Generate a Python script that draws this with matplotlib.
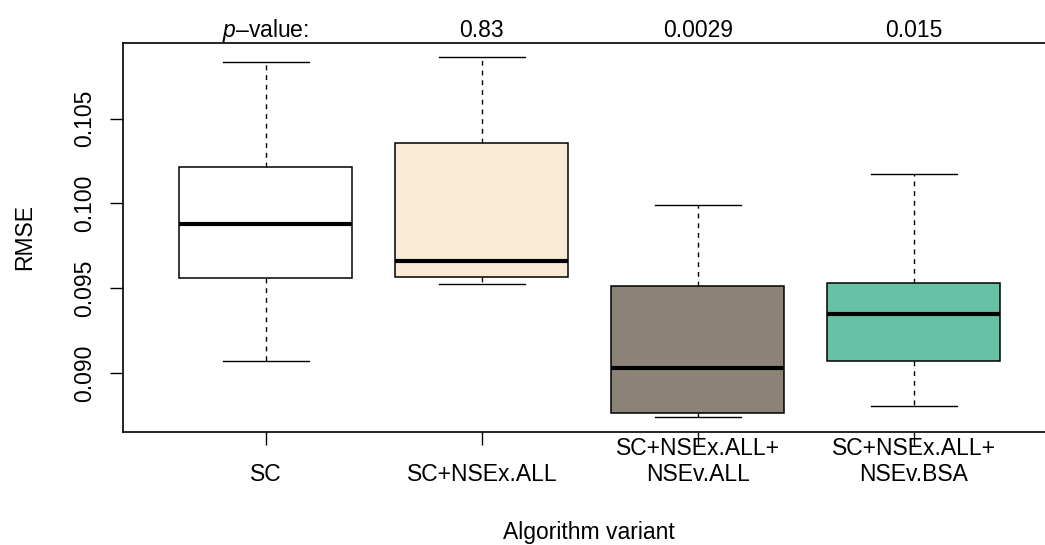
import matplotlib
matplotlib.use("Agg")
import matplotlib.pyplot as plt
import matplotlib.transforms as mtransforms

plt.rcParams["font.family"] = ["Liberation Sans", "DejaVu Sans"]
plt.rcParams["mathtext.fontset"] = "custom"
plt.rcParams["mathtext.it"] = "Liberation Sans:italic"
plt.rcParams["mathtext.rm"] = "Liberation Sans"

# ---- Data ----
variants = ["SC", "SC+NSEx.ALL", "SC+NSEx.ALL+\nNSEv.ALL", "SC+NSEx.ALL+\nNSEv.BSA"]
whislo = [0.09074, 0.09527, 0.08741, 0.08808]
q1 = [0.09562, 0.09565, 0.08765, 0.09071]
med = [0.09878, 0.09661, 0.09033, 0.09351]
q3 = [0.10215, 0.10356, 0.09514, 0.09531]
whishi = [0.10833, 0.10862, 0.09993, 0.10175]
p_labels = [r"$p$" + "\u2013value:", "0.83", "0.0029", "0.015"]
box_colors = ["#FFFFFF", "#FAEBD7", "#8B8378", "#66C2A5"]
y_ticks = [0.090, 0.095, 0.100, 0.105]

FS = 16.5
W, H = 1045, 545

fig = plt.figure(figsize=(W / 100, H / 100), dpi=100)
# axes box in pixels: left 123.3, right 1056.3 (off-canvas, R-style crop), top 42.7, bottom 431.7
ax = fig.add_axes([123.3 / W, (H - 431.7) / H, (1056.3 - 123.3) / W, (431.7 - 42.7) / H])

stats = []
for i in range(len(variants)):
    stats.append({"whislo": whislo[i], "q1": q1[i], "med": med[i],
                  "q3": q3[i], "whishi": whishi[i], "fliers": []})

positions = list(range(1, len(variants) + 1))
bp = ax.bxp(stats, positions=positions, widths=0.8, capwidths=0.4,
            patch_artist=True, showfliers=False,
            boxprops=dict(edgecolor="black", linewidth=1.1),
            medianprops=dict(color="black", linewidth=3.0, solid_capstyle="butt"),
            whiskerprops=dict(color="black", linewidth=1.0, linestyle=(0, (3.5, 3.5))),
            capprops=dict(color="black", linewidth=1.0))
for patch, c in zip(bp["boxes"], box_colors):
    patch.set_facecolor(c)

# R default limits: 4% extension
ymin = min(whislo)
ymax = max(whishi)
pad = (ymax - ymin) * 0.04
ax.set_ylim(ymin - pad, ymax + pad)
ax.set_xlim(0.5 - 0.16, len(variants) + 0.5 + 0.16)

for sp in ax.spines.values():
    sp.set_linewidth(1.2)

ax.set_yticks(y_ticks)
ax.set_yticklabels([f"{v:.3f}" for v in y_ticks], rotation=90, va="center", fontsize=FS)
ax.tick_params(axis="y", length=9.5, width=1.0, pad=10)
ax.set_xticks(positions)
ax.set_xticklabels([])
ax.tick_params(axis="x", length=9.5, width=1.0)

trans = mtransforms.blended_transform_factory(ax.transData, fig.transFigure)

# x category labels, last line baseline at 481 px, line step 26 px
for x, lab in zip(positions, variants):
    lines = lab.split("\n")
    n = len(lines)
    for k, line in enumerate(lines):
        base_px = 481 - 26 * (n - 1 - k)
        ax.text(x, (H - base_px) / H, line, transform=trans, ha="center",
                va="baseline", fontsize=FS)

# p-value row above the plot
for x, lab in zip(positions, p_labels):
    ax.text(x, (H - 36.7) / H, lab, transform=trans, ha="center",
            va="baseline", fontsize=FS)

fig.text(589 / W, (H - 539.3) / H, "Algorithm variant", ha="center",
         va="baseline", fontsize=FS)
fig.text(25 / W, (H - 237) / H, "RMSE", ha="center", va="center",
         rotation=90, fontsize=FS)

fig.savefig("out.png", dpi=100)
